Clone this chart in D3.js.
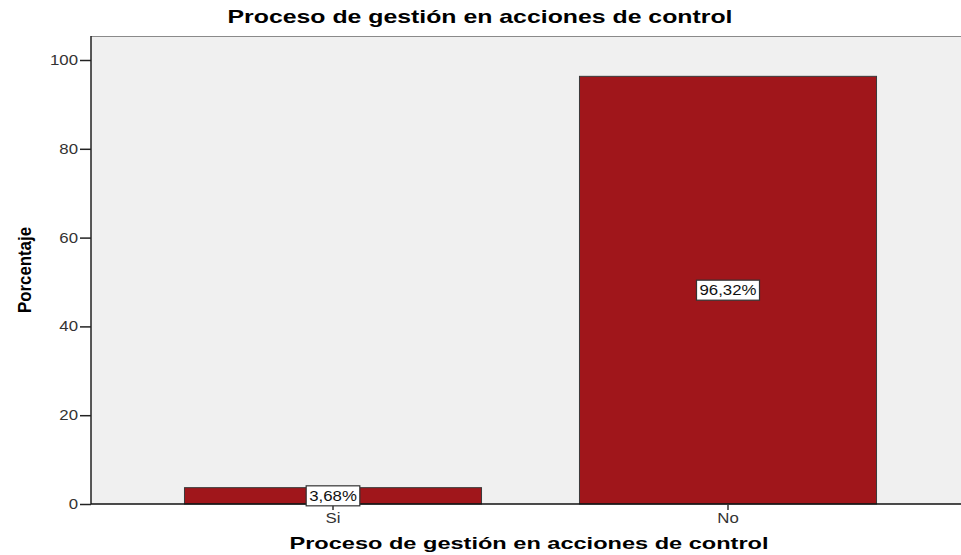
<!DOCTYPE html>
<html>
<head>
<meta charset="utf-8">
<script src="https://cdn.jsdelivr.net/npm/d3@7"></script>
<style>
  body { margin: 0; background: #fff; }
  text { font-family: "Liberation Sans", Arial, sans-serif; }
</style>
</head>
<body>
<svg id="chart" width="961" height="555"></svg>
<script>
// 資料
const categories = ['Si', 'No'];
const values = [3.68, 96.32];
const labels = ['3,68%', '96,32%'];
const yTicks = [0, 20, 40, 60, 80, 100];
const titleText = 'Proceso de gestión en acciones de control';
const xTitle = 'Proceso de gestión en acciones de control';
const yTitle = 'Porcentaje';

const svg = d3.select('#chart');

// 繪圖區
const plot = { left: 91, top: 36, right: 961, bottom: 504 };

// 文字橫向拉伸（原圖水平方向被拉寬）
function stretch(sel, k) {
    sel.each(function() {
        const w = this.getComputedTextLength();
        d3.select(this)
            .attr('textLength', w * k)
            .attr('lengthAdjust', 'spacingAndGlyphs');
    });
}

const x = d3.scaleBand()
    .domain(categories)
    .range([135.5, 925.5])
    .paddingInner(0.248)
    .paddingOuter(0.124);

const y = d3.scaleLinear()
    .domain([0, 100])
    .range([plot.bottom, 60]);

// 背景
svg.append('rect')
    .attr('x', plot.left)
    .attr('y', plot.top)
    .attr('width', plot.right - plot.left)
    .attr('height', plot.bottom - plot.top)
    .attr('fill', '#f0f0f0');

svg.append('line')
    .attr('x1', plot.left).attr('x2', plot.right)
    .attr('y1', plot.top + 0.5).attr('y2', plot.top + 0.5)
    .attr('stroke', '#8a8a8a');

// 長條
svg.selectAll('.bar')
    .data(values)
    .enter()
    .append('rect')
    .attr('class', 'bar')
    .attr('x', (d, i) => x(categories[i]))
    .attr('y', d => y(d))
    .attr('width', x.bandwidth())
    .attr('height', d => plot.bottom - y(d))
    .attr('fill', '#a0161b')
    .attr('stroke', '#3a3a3a')
    .attr('stroke-width', 1);

// Y 軸
const yAxis = svg.append('g')
    .attr('transform', `translate(${plot.left}, 0)`)
    .call(d3.axisLeft(y).tickValues(yTicks).tickSize(11).tickPadding(2));
yAxis.select('.domain').attr('d', `M0,${plot.top}V${plot.bottom}`).attr('stroke', '#222').attr('stroke-width', 1.5);
yAxis.selectAll('.tick line').attr('stroke', '#222').attr('stroke-width', 1.5);
yAxis.selectAll('.tick text')
    .attr('fill', '#333')
    .style('font-family', '"Liberation Sans", Arial, sans-serif')
    .style('font-size', '14px')
    .call(stretch, 1.2);

// X 軸
const xAxis = svg.append('g')
    .attr('transform', `translate(0, ${plot.bottom})`)
    .call(d3.axisBottom(x).tickSize(6).tickPadding(3));
xAxis.select('.domain').attr('d', `M${plot.left},0H${plot.right}`).attr('stroke', '#111').attr('stroke-width', 1.5);
xAxis.selectAll('.tick line').attr('stroke', '#333').attr('stroke-width', 1.5);
xAxis.selectAll('.tick text')
    .attr('fill', '#333')
    .style('font-family', '"Liberation Sans", Arial, sans-serif')
    .style('font-size', '14px')
    .call(stretch, 1.2);

// 數值標籤
const lbl = svg.selectAll('.lbl')
    .data(values)
    .enter()
    .append('g')
    .attr('class', 'lbl')
    .attr('transform', (d, i) => `translate(${x(categories[i]) + x.bandwidth() / 2}, ${y(d / 2)})`);

lbl.each(function(d, i) {
    const g = d3.select(this);
    const t = g.append('text')
        .attr('text-anchor', 'middle')
        .attr('dy', '0.36em')
        .attr('fill', '#111')
        .style('font-size', '14px')
        .text(labels[i]);
    const w0 = t.node().getComputedTextLength();
    const w = Math.min(w0 * 1.2, 58);
    t.attr('textLength', w).attr('lengthAdjust', 'spacingAndGlyphs');
    g.insert('rect', 'text')
        .attr('x', -w / 2 - 3)
        .attr('y', -10)
        .attr('width', w + 6)
        .attr('height', 20)
        .attr('fill', '#fff')
        .attr('stroke', '#333')
        .attr('stroke-width', 1.2);
});

// 標題
svg.append('text')
    .attr('x', 480)
    .attr('y', 23)
    .attr('text-anchor', 'middle')
    .attr('textLength', 505)
    .attr('lengthAdjust', 'spacingAndGlyphs')
    .style('font-size', '19px')
    .style('font-weight', 'bold')
    .attr('fill', '#000')
    .text(titleText);

svg.append('text')
    .attr('x', 529)
    .attr('y', 549)
    .attr('text-anchor', 'middle')
    .attr('textLength', 479)
    .attr('lengthAdjust', 'spacingAndGlyphs')
    .style('font-size', '17px')
    .style('font-weight', 'bold')
    .attr('fill', '#000')
    .text(xTitle);

svg.append('text')
    .attr('transform', 'translate(31, 270) rotate(-90)')
    .attr('text-anchor', 'middle')
    .attr('textLength', 86)
    .attr('lengthAdjust', 'spacingAndGlyphs')
    .style('font-size', '19px')
    .style('font-weight', 'bold')
    .attr('fill', '#000')
    .text(yTitle);
</script>
</body>
</html>
